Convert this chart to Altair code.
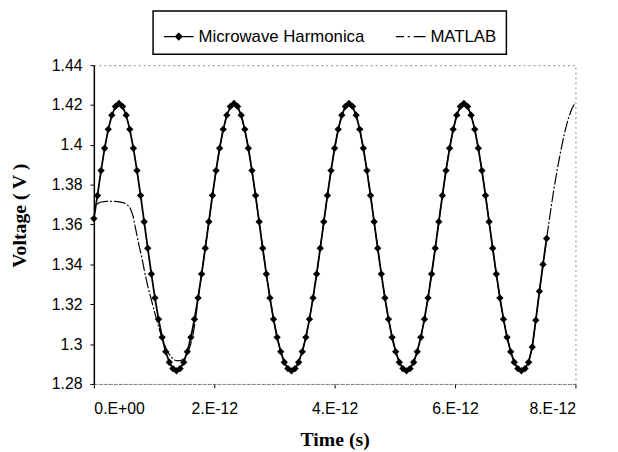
import altair as alt
import pandas as pd

# ---------------- data ----------------
SERIES = ["Microwave Harmonica", "MATLAB"]

# time step between harmonic-balance samples (ps); period of the waveform is ~1.91 ps
T_STEP_PS = 1.91 / 32

# Microwave Harmonica voltages (V), one value per time step, t = 0 ... ~7.52 ps
HARMONICA_V = [
    1.3630, 1.3746, 1.3871, 1.3983, 1.4078, 1.4149, 1.4193, 1.4208, 1.4193, 1.4149, 1.4078,
    1.3983, 1.3871, 1.3746, 1.3614, 1.3481, 1.3352, 1.3232, 1.3125, 1.3034, 1.2962, 1.2909,
    1.2877, 1.2866, 1.2877, 1.2909, 1.2962, 1.3034, 1.3125, 1.3232, 1.3352, 1.3481,
    1.3614, 1.3746, 1.3871, 1.3983, 1.4078, 1.4149, 1.4193, 1.4208, 1.4193, 1.4149, 1.4078,
    1.3983, 1.3871, 1.3746, 1.3614, 1.3481, 1.3352, 1.3232, 1.3125, 1.3034, 1.2962, 1.2909,
    1.2877, 1.2866, 1.2877, 1.2909, 1.2962, 1.3034, 1.3125, 1.3232, 1.3352, 1.3481,
    1.3614, 1.3746, 1.3871, 1.3983, 1.4078, 1.4149, 1.4193, 1.4208, 1.4193, 1.4149, 1.4078,
    1.3983, 1.3871, 1.3746, 1.3614, 1.3481, 1.3352, 1.3232, 1.3125, 1.3034, 1.2962, 1.2909,
    1.2877, 1.2866, 1.2877, 1.2909, 1.2962, 1.3034, 1.3125, 1.3232, 1.3352, 1.3481,
    1.3614, 1.3746, 1.3871, 1.3983, 1.4078, 1.4149, 1.4193, 1.4208, 1.4193, 1.4149, 1.4078,
    1.3983, 1.3871, 1.3746, 1.3614, 1.3481, 1.3352, 1.3232, 1.3125, 1.3034, 1.2962, 1.2909,
    1.2877, 1.2866, 1.2877, 1.2909, 1.2985, 1.3120, 1.3265, 1.3400, 1.3530,
]

# MATLAB start-up transient (ps, V) before it joins the steady-state waveform
MATLAB_EARLY_T = [0.05, 0.10, 0.20, 0.30, 0.40, 0.50, 0.55, 0.60, 0.65, 0.70, 0.75,
                  0.80, 0.85, 0.90, 0.95, 1.00, 1.05, 1.10, 1.15, 1.20, 1.25, 1.30,
                  1.35, 1.40, 1.45, 1.50, 1.55, 1.60, 1.65, 1.70, 1.75]
MATLAB_EARLY_V = [1.3702, 1.3712, 1.3716, 1.3717, 1.3715, 1.3709, 1.3700, 1.3686, 1.3645, 1.3570, 1.3495,
                  1.3430, 1.3352, 1.3285, 1.3228, 1.3170, 1.3115, 1.3062, 1.3015, 1.2978, 1.2950, 1.2930,
                  1.2919, 1.2916, 1.2919, 1.2926, 1.2950, 1.2990, 1.3050, 1.3150, 1.3268]
MATLAB_JOIN_INDEX = 31          # from this Harmonica sample on, MATLAB lies on the same curve
# MATLAB beyond the last Harmonica sample, up to 8 ps
MATLAB_TAIL_V = [1.3655, 1.3775, 1.3880, 1.3975, 1.4060, 1.4130, 1.4180, 1.4212]

X_TICKS = [0, 2, 4, 6, 8]
Y_TICKS = [1.28, 1.30, 1.32, 1.34, 1.36, 1.38, 1.40, 1.42, 1.44]

# ---------------- tables ----------------
n_h = len(HARMONICA_V)
harm_df = pd.DataFrame({
    "t": [k * T_STEP_PS for k in range(n_h)],
    "v": HARMONICA_V,
    "series": SERIES[0],
})
matlab_t = (MATLAB_EARLY_T
            + [k * T_STEP_PS for k in range(MATLAB_JOIN_INDEX, n_h)]
            + [k * T_STEP_PS for k in range(n_h, n_h + len(MATLAB_TAIL_V))])
matlab_v = MATLAB_EARLY_V + HARMONICA_V[MATLAB_JOIN_INDEX:] + MATLAB_TAIL_V
matlab_df = pd.DataFrame({"t": matlab_t, "v": matlab_v, "series": SERIES[1]})
legend_df = pd.DataFrame({"series": SERIES})

SANS = "Liberation Sans"
SERIF = "Liberation Serif"

x_enc = alt.X(
    "t:Q",
    scale=alt.Scale(domain=[0, 8], nice=False, zero=False),
    axis=alt.Axis(
        values=X_TICKS,
        labelExpr="datum.value == 0 ? '0.E+00' : datum.value + '.E-12'",
        labelFont=SANS, labelFontSize=16, labelColor="black", labelPadding=13,
        tickSize=4, tickColor="black", grid=False,
        domainColor="#6a6a6a", domainDash=[2, 3], domainWidth=1,
        title="Time (s)", titleFont=SERIF, titleFontWeight="bold", titleFontSize=20,
        titleColor="black", titleX=244, titleY=62, titleBaseline="alphabetic",
    ),
)
y_enc = alt.Y(
    "v:Q",
    scale=alt.Scale(domain=[1.28, 1.44], nice=False, zero=False),
    axis=alt.Axis(
        values=Y_TICKS, format=".2~f",
        labelFont=SANS, labelFontSize=16, labelColor="black", labelPadding=8,
        tickSize=4, tickColor="black", grid=False,
        domainColor="black", domainWidth=1.5,
        title="Voltage ( V )", titleFont=SERIF, titleFontWeight="bold", titleFontSize=20,
        titleColor="black", titleX=-75, titleY=152, titleBaseline="middle", titleAlign="center",
        titleAngle=270,
    ),
)

matlab_line = alt.Chart(matlab_df).mark_line(
    color="black", strokeWidth=1.2, strokeDash=[12, 2, 2, 2]
).encode(x=x_enc, y=y_enc)

harm_line = alt.Chart(harm_df).mark_line(color="black", strokeWidth=1.8).encode(x=x_enc, y=y_enc)
harm_pts = alt.Chart(harm_df).mark_point(
    shape="diamond", filled=True, color="black", size=55, opacity=1
).encode(x=x_enc, y=y_enc)

# legend symbols: line with a solid diamond, and a dash-dot line
H_SYMBOL = ("M-1,0H1M0,-0.22L0.22,0L0,0.22L-0.22,0Z"
            "M-0.14,0H0.14M0,-0.14V0.14M-0.08,-0.08L0.08,0.08M-0.08,0.08L0.08,-0.08")
M_SYMBOL = "M-1,0H-0.45M-0.2,0H-0.05M0.2,0H1"

legend_layer = alt.Chart(legend_df).mark_point(
    filled=False, stroke="black", strokeWidth=1.3, opacity=0
).encode(
    shape=alt.Shape(
        "series:N",
        scale=alt.Scale(domain=SERIES, range=[H_SYMBOL, M_SYMBOL]),
        legend=alt.Legend(
            title=None, orient="none", legendX=60, legendY=-55, direction="horizontal",
            symbolSize=900, symbolOpacity=1, symbolFillColor="black",
            symbolStrokeColor="black", symbolStrokeWidth=1.3,
            labelFont=SANS, labelFontSize=17, labelColor="black", labelOffset=4,
            labelLimit=400,
            columnPadding=28, padding=10, strokeColor="black", fillColor="white",
        ),
    )
)

chart = alt.layer(matlab_line, harm_line, harm_pts, legend_layer).properties(
    width=488, height=323,
    autosize=alt.AutoSizeParams(type="none"),
    padding={"left": 87, "top": 55, "right": 35, "bottom": 66},
    background="white",
).configure_view(
    stroke="#8a8a8a", strokeDash=[2, 3], strokeWidth=1
).configure_legend(strokeWidth=1.5)

chart.save("out.html", embed_options={"renderer": "svg", "actions": False})
